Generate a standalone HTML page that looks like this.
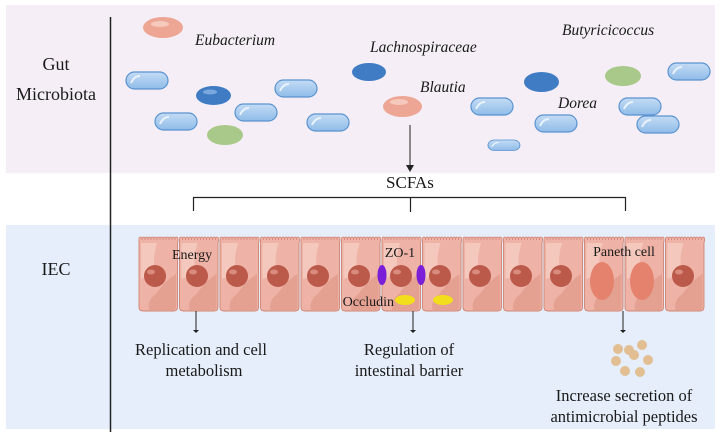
<!DOCTYPE html>
<html><head><meta charset="utf-8"><style>
html,body{margin:0;padding:0;background:#fff;}
svg{display:block;}
text{font-family:"Liberation Serif",serif;fill:#1a1a1a;}
</style></head><body>
<svg width="720" height="437" viewBox="0 0 720 437" xmlns="http://www.w3.org/2000/svg">
<defs>
<linearGradient id="rod" x1="0" y1="0" x2="0" y2="1">
<stop offset="0" stop-color="#c4dcf5"/><stop offset="1" stop-color="#8fbbe8"/></linearGradient>
<g id="r"><rect x="0" y="0" width="42" height="17" rx="8.5" fill="url(#rod)" stroke="#5b93cf" stroke-width="1.2"/><path d="M5 11 Q8 4 14 4" stroke="#e8f2fc" stroke-width="2" fill="none"/></g>
<g id="cell">
<path d="M1 7 h38.5 v66 q0 4 -4 4 h-30.5 q-4 0 -4 -4z" fill="#eeb3a6" stroke="#cf8474" stroke-width="0.9"/>
<path d="M3 9 h16 q-6 20 0 30 l-16 6z" fill="#f5cdc3" opacity="0.8"/>
<path d="M18 60 q10 -14 20 -20 v33 q0 3 -3 3 h-24 q-2 -10 7 -16z" fill="#e29d8f" opacity="0.9"/>
<path d="M1 8 v-4 q1.5 -2 3 0 v2 v-2 q1.5 -2 3 0 v2 v-2 q1.5 -2 3 0 v2 v-2 q1.5 -2 3 0 v2 v-2 q1.5 -2 3 0 v2 v-2 q1.5 -2 3 0 v2 v-2 q1.5 -2 3 0 v2 v-2 q1.5 -2 3 0 v2 v-2 q1.5 -2 3 0 v2 v-2 q1.5 -2 3 0 v2 v-2 q1.5 -2 3 0 v2 v-2 q1.5 -2 3 0 v2 v-2 q1.5 -2 3 0 v4" fill="#eeb3a6" stroke="#cf8474" stroke-width="0.8"/>
</g>
<g id="nuc"><circle r="11" fill="#bb5a4b"/><ellipse cx="-4" cy="-4" rx="4" ry="2.5" fill="#d98b7d"/></g>
</defs>
<rect x="6" y="5" width="709" height="168" fill="#f5eef6"/>
<rect x="6" y="225" width="709" height="204" fill="#e5eefa"/>
<line x1="110.5" y1="17" x2="110.5" y2="432" stroke="#222" stroke-width="1.5"/>
<text x="56" y="70" font-size="18" text-anchor="middle">Gut</text>
<text x="56" y="100" font-size="18" text-anchor="middle">Microbiota</text>
<text x="56" y="275" font-size="18" text-anchor="middle">IEC</text>

<!-- bacteria -->
<ellipse cx="163" cy="27.5" rx="20" ry="10.5" fill="#eda594"/>
<ellipse cx="160" cy="24" rx="9" ry="3" fill="#f6c9bd"/>
<ellipse cx="213.5" cy="95.5" rx="17.5" ry="9.5" fill="#3f7cc4"/>
<ellipse cx="210" cy="92" rx="7" ry="2.5" fill="#7aa8dc"/>
<ellipse cx="369" cy="72" rx="17" ry="9" fill="#3f7cc4"/>
<ellipse cx="541.5" cy="82" rx="17.5" ry="10" fill="#3f7cc4"/>
<ellipse cx="225" cy="135" rx="18" ry="10" fill="#a8c98a"/>
<ellipse cx="623" cy="76" rx="18" ry="10" fill="#a8c98a"/>
<ellipse cx="402.5" cy="106.5" rx="19.5" ry="10.5" fill="#eda594"/>
<ellipse cx="399" cy="102" rx="9" ry="3" fill="#f6c9bd"/>
<use href="#r" x="126" y="72"/>
<use href="#r" x="155" y="113"/>
<use href="#r" x="235" y="104"/>
<use href="#r" x="275" y="80"/>
<use href="#r" x="307" y="114"/>
<use href="#r" x="471" y="98"/>
<use href="#r" x="535" y="115"/>
<use href="#r" x="619" y="98"/>
<use href="#r" x="637" y="116"/>
<use href="#r" x="668" y="63"/>
<g transform="translate(488,140) scale(0.76,0.62)"><use href="#r"/></g>

<g font-style="italic" font-size="15.5">
<text x="195" y="45">Eubacterium</text>
<text x="370" y="52">Lachnospiraceae</text>
<text x="420" y="92">Blautia</text>
<text x="562" y="35">Butyricicoccus</text>
<text x="558" y="108">Dorea</text>
</g>

<!-- arrow to SCFAs -->
<line x1="410" y1="125" x2="410" y2="166" stroke="#222" stroke-width="1"/>
<path d="M406 165 L414 165 L410 172z" fill="#222"/>
<text x="410" y="188" font-size="17" text-anchor="middle">SCFAs</text>
<path d="M193.5 211 V197.5 H625.5 V211 M410.5 197.5 V212" stroke="#222" stroke-width="1.2" fill="none"/>

<!-- cells -->
<g transform="translate(138,234)">
<use href="#cell" x="0"/><use href="#cell" x="40.5"/><use href="#cell" x="81"/><use href="#cell" x="121.5"/>
<use href="#cell" x="162"/><use href="#cell" x="202.5"/><use href="#cell" x="243"/><use href="#cell" x="283.5"/>
<use href="#cell" x="324"/><use href="#cell" x="364.5"/><use href="#cell" x="405"/><use href="#cell" x="445.5"/>
<use href="#cell" x="486"/><use href="#cell" x="526.5"/>
</g>
<use href="#nuc" x="155" y="276"/><use href="#nuc" x="197" y="276"/><use href="#nuc" x="237" y="276"/>
<use href="#nuc" x="278" y="276"/><use href="#nuc" x="318" y="276"/><use href="#nuc" x="359" y="276"/>
<use href="#nuc" x="401" y="276"/><use href="#nuc" x="440" y="276"/><use href="#nuc" x="480" y="276"/>
<use href="#nuc" x="521" y="276"/><use href="#nuc" x="561" y="276"/><use href="#nuc" x="683" y="276"/>
<ellipse cx="602" cy="281" rx="12" ry="19" fill="#e4826d"/>
<ellipse cx="642" cy="281" rx="12" ry="19" fill="#e4826d"/>
<ellipse cx="382" cy="275" rx="4.5" ry="10" fill="#7a1ed8"/>
<ellipse cx="421" cy="275" rx="4.5" ry="10" fill="#7a1ed8"/>
<ellipse cx="405" cy="300" rx="10" ry="5" fill="#f2de1c"/>
<ellipse cx="443" cy="300" rx="10" ry="5" fill="#f2de1c"/>
<text x="172" y="259" font-size="14">Energy</text>
<text x="400" y="257" font-size="14" text-anchor="middle">ZO-1</text>
<text x="394" y="306" font-size="14" text-anchor="end">Occludin</text>
<text x="624" y="256" font-size="14" text-anchor="middle">Paneth cell</text>

<!-- lower arrows -->
<g stroke="#222" stroke-width="1">
<line x1="196" y1="311" x2="196" y2="331"/><line x1="413" y1="311" x2="413" y2="331"/><line x1="623" y1="311" x2="623" y2="331"/>
</g>
<g fill="#222"><path d="M193 330 h6 l-3 3z"/><path d="M410 330 h6 l-3 3z"/><path d="M620 330 h6 l-3 3z"/></g>

<g fill="#e2bf93">
<circle cx="618" cy="349" r="5"/><circle cx="629" cy="350" r="5"/><circle cx="642" cy="345" r="5"/>
<circle cx="634" cy="355" r="5"/><circle cx="616" cy="361" r="5"/><circle cx="648" cy="360" r="5"/>
<circle cx="625" cy="371" r="5"/><circle cx="640" cy="372" r="5"/>
</g>

<g font-size="16.5" text-anchor="middle">
<text x="201" y="355">Replication and cell</text>
<text x="204" y="376">metabolism</text>
<text x="409" y="355">Regulation of</text>
<text x="409" y="376">intestinal barrier</text>
<text x="624" y="401">Increase secretion of</text>
<text x="624" y="422">antimicrobial peptides</text>
</g>
</svg>
</body></html>
